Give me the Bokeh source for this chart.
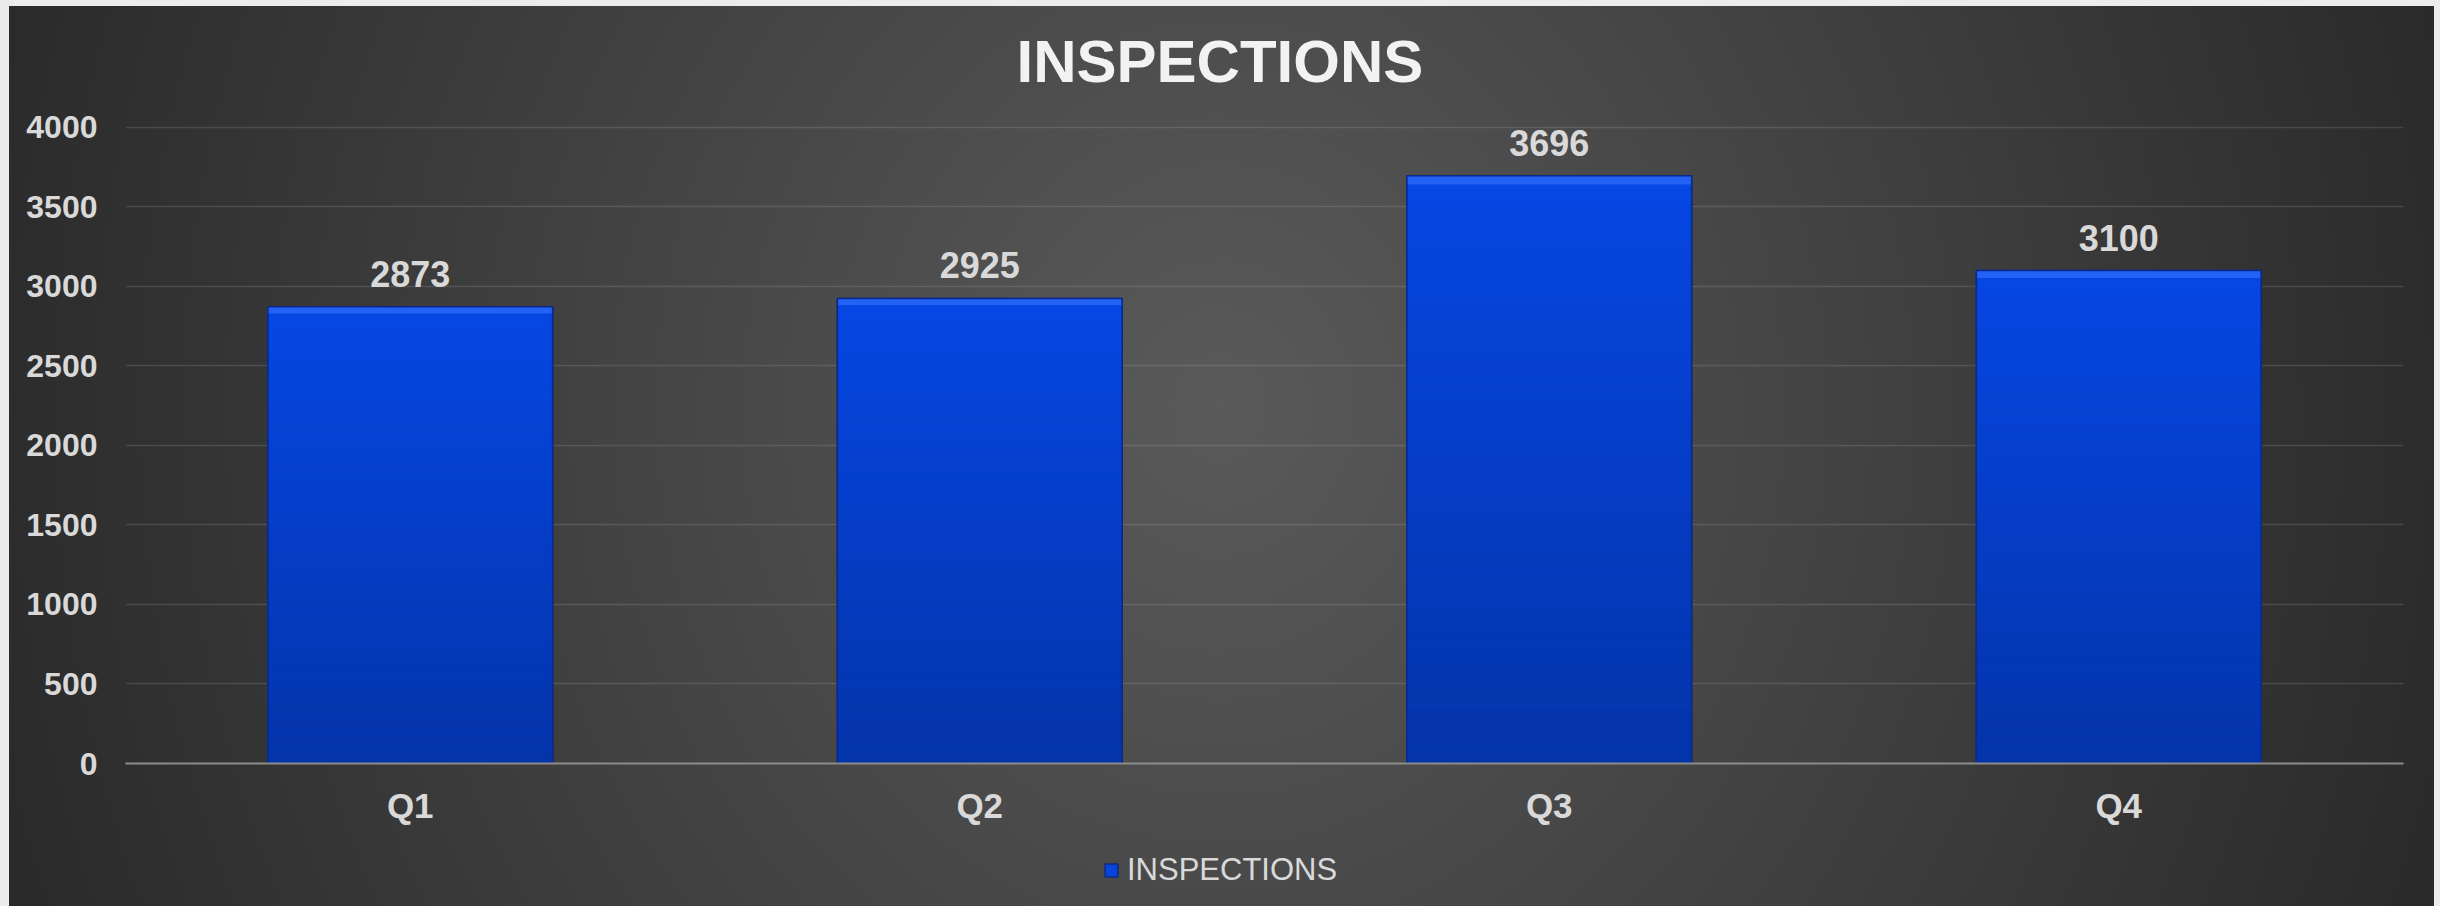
from bokeh.plotting import figure
from bokeh.layouts import column
from bokeh.models import (ColumnDataSource, LabelSet, Legend, LegendItem,
                          FixedTicker)
from bokeh.core.properties import value
from bokeh.embed import file_html
from bokeh.resources import INLINE

# ---- data ----
categories = ["Q1", "Q2", "Q3", "Q4"]
inspections = [2873, 2925, 3696, 3100]
y_ticks = [0, 500, 1000, 1500, 2000, 2500, 3000, 3500, 4000]
series_name = "INSPECTIONS"
title_text = "INSPECTIONS"

FONT = "Liberation Sans"
TXT = "#d9d9d9"
BAR_FILL = "#0644dc"
BAR_LINE = "#0a2a8a"

p = figure(x_range=categories, y_range=(0, 4050),
           width=2440, height=830,
           output_backend="svg", toolbar_location=None,
           min_border_left=125, min_border_right=37,
           min_border_top=119, min_border_bottom=67)
p.background_fill_color = None
p.border_fill_color = None
p.outline_line_color = None

# title
p.title.text = title_text
p.title.text_font = FONT
p.title.text_font_size = "60px"
p.title.text_font_style = "bold"
p.title.text_color = "#f2f2f2"
p.title.align = "left"
p.title.offset = 891
p.title.standoff = 50

# ---- bars: base, gradient segments, top bevel, outline ----
W = 0.5
p.vbar(x=categories, top=inspections, width=W,
       fill_color=BAR_FILL, line_color=BAR_LINE, line_width=1.5)

def mix(c1, c2, t):
    a = [int(c1[i:i + 2], 16) for i in (1, 3, 5)]
    b = [int(c2[i:i + 2], 16) for i in (1, 3, 5)]
    return "#%02x%02x%02x" % tuple(round(a[k] + (b[k] - a[k]) * t) for k in range(3))

N = 30
seg = {"x": [], "bottom": [], "top": [], "color": []}
for c, v in zip(categories, inspections):
    for i in range(N):
        f0, f1 = i / N, (i + 1) / N
        seg["x"].append(c)
        seg["bottom"].append(v * f0 * 0.985)
        seg["top"].append(v * f1 * 0.985)
        seg["color"].append(mix("#0433a8", "#0646e2", f1))
    seg["x"].append(c)
    seg["bottom"].append(v * 0.985)
    seg["top"].append(v)
    seg["color"].append("#2362f4")
p.vbar(x="x", bottom="bottom", top="top", width=W, fill_color="color",
       line_color=None, source=ColumnDataSource(seg))
p.vbar(x=categories, top=inspections, width=W, fill_color=None,
       line_color=BAR_LINE, line_width=1.5)

# data labels
src = ColumnDataSource(dict(x=categories, y=inspections,
                            t=[str(v) for v in inspections]))
labels = LabelSet(x="x", y="y", text="t", source=src,
                  text_align="center", text_baseline="alphabetic",
                  y_offset=20, text_font=value(FONT), text_font_size=value("36px"),
                  text_font_style="bold", text_color=TXT)
p.add_layout(labels)

# axes
p.yaxis.ticker = FixedTicker(ticks=y_ticks)
p.yaxis.axis_line_color = None
p.yaxis.major_tick_line_color = None
p.yaxis.minor_tick_line_color = None
p.yaxis.major_tick_out = 0
p.yaxis.major_tick_in = 0
p.yaxis.minor_tick_out = 0
p.yaxis.major_label_standoff = 28
p.yaxis.major_label_text_font = FONT
p.yaxis.major_label_text_font_size = "32px"
p.yaxis.major_label_text_font_style = "bold"
p.yaxis.major_label_text_color = TXT

p.xaxis.axis_line_color = "#8c8c8c"
p.xaxis.axis_line_width = 2
p.xaxis.major_tick_line_color = None
p.xaxis.minor_tick_line_color = None
p.xaxis.major_tick_out = 0
p.xaxis.major_tick_in = 0
p.xaxis.major_label_standoff = 22
p.xaxis.major_label_text_font = FONT
p.xaxis.major_label_text_font_size = "35px"
p.xaxis.major_label_text_font_style = "bold"
p.xaxis.major_label_text_color = TXT

p.xgrid.grid_line_color = None
p.ygrid.grid_line_color = "#ffffff"
p.ygrid.grid_line_alpha = 0.12
p.ygrid.grid_line_width = 1.5

# ---- legend strip (separate figure under the chart) ----
lf = figure(width=2440, height=76, x_range=categories, y_range=(0, 4050),
            x_axis_location=None, y_axis_location=None,
            output_backend="svg", toolbar_location=None,
            min_border=0)
lf.background_fill_color = None
lf.border_fill_color = None
lf.outline_line_color = None
lf.grid.visible = False
proxy = lf.vbar(x=categories, top=inspections, width=W, fill_color=BAR_FILL,
                line_color=BAR_LINE, line_width=1.5)
proxy.visible = False
legend = Legend(items=[LegendItem(label=series_name, renderers=[proxy])],
                location=(978, 18), orientation="horizontal",
                glyph_width=16, glyph_height=16, label_standoff=8,
                padding=0, margin=0, spacing=0,
                inactive_fill_alpha=0,
                label_text_font=FONT, label_text_font_size="31px",
                label_text_color=TXT,
                background_fill_alpha=0, border_line_alpha=0)
lf.add_layout(legend)

layout = column(p, lf, spacing=0, styles={"background":
    "linear-gradient(to right, #ececec 9px, transparent 9px), "
    "linear-gradient(to bottom, #ececec 6px, transparent 6px), "
    "linear-gradient(to left, #ececec 6px, transparent 6px), "
    "radial-gradient(1350px 1500px at 50% 45%, #5a5a5a 0%, #272727 100%)"})

open("out.html", "w").write(file_html(layout, INLINE))
